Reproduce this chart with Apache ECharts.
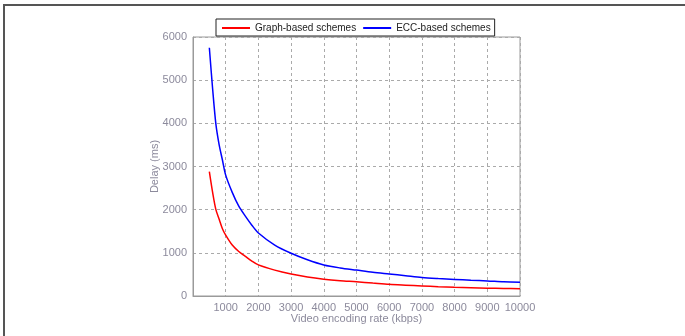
<!DOCTYPE html>
<html>
<head>
<meta charset="utf-8">
<script src="https://cdn.jsdelivr.net/npm/echarts@6/dist/echarts.min.js"></script>
<style>
html,body{margin:0;padding:0;background:#fff;}
#frame{position:absolute;left:3px;top:4px;width:682px;height:332px;border-left:2px solid #555;border-top:2px solid #555;box-sizing:border-box;}
#chart{position:absolute;left:0;top:0;width:685px;height:336px;}
</style>
</head>
<body>
<div id="frame"></div>
<div id="chart"></div>
<script>
const rates = [500, 600, 700, 800, 900, 1000, 1200, 1400, 1600, 1800, 2000, 2500, 3000, 3500, 4000, 4500, 5000, 5500, 6000, 6500, 7000, 7500, 8000, 8500, 9000, 9500, 10000];
const graphDelay = [2880, 2400, 2000, 1780, 1560, 1410, 1180, 1030, 920, 810, 720, 600, 510, 440, 390, 355, 330, 300, 270, 250, 232, 215, 200, 190, 180, 175, 170];
const eccDelay = [5750, 4800, 3980, 3500, 3150, 2800, 2400, 2080, 1850, 1640, 1460, 1180, 990, 840, 720, 650, 600, 550, 510, 470, 430, 405, 385, 365, 350, 330, 320];
const seriesNames = ['Graph-based schemes', 'ECC-based schemes'];
const xTitle = 'Video encoding rate (kbps)';
const yTitle = 'Delay (ms)';

const chart = echarts.init(document.getElementById('chart'), null, {renderer: 'canvas'});
const labelColor = '#8c8a9c';
const font = 'Liberation Sans, Arial, sans-serif';
chart.setOption({
  animation: false,
  grid: {left: 193, right: 165, top: 37, bottom: 40, show: true, borderColor: '#9a9a9a', borderWidth: 1},
  legend: {
    left: 216, top: 19, padding: [4, 4, 3, 6], itemGap: 7, itemWidth: 28, itemHeight: 2,
    icon: 'rect',
    borderColor: '#222', borderWidth: 1, backgroundColor: '#fff',
    textStyle: {fontFamily: font, fontSize: 10, color: '#222'},
    data: seriesNames
  },
  xAxis: {
    type: 'value', min: 0, max: 10000, interval: 1000,
    name: xTitle, nameLocation: 'middle', nameGap: 17, nameMoveOverlap: false,
    nameTextStyle: {fontFamily: font, fontSize: 11, color: labelColor},
    axisLine: {show: true, lineStyle: {color: '#9a9a9a'}},
    axisTick: {show: false},
    axisLabel: {fontFamily: font, fontSize: 11, color: labelColor, margin: 6, showMinLabel: false,
      formatter: v => v === 0 ? '' : String(v)},
    splitLine: {show: true, lineStyle: {color: '#aaa', type: [3, 3]}}
  },
  yAxis: {
    type: 'value', min: 0, max: 6000, interval: 1000,
    name: yTitle, nameLocation: 'middle', nameGap: 33, nameMoveOverlap: false,
    nameTextStyle: {fontFamily: font, fontSize: 11, color: labelColor},
    axisLine: {show: true, lineStyle: {color: '#9a9a9a'}},
    axisTick: {show: false},
    axisLabel: {fontFamily: font, fontSize: 11, color: labelColor, margin: 6, formatter: v => String(v)},
    splitLine: {show: true, lineStyle: {color: '#aaa', type: [3, 3]}}
  },
  series: [
    {name: seriesNames[0], type: 'line', showSymbol: false, symbol: 'none', smooth: 0.3,
      lineStyle: {color: '#ff0000', width: 1.5}, itemStyle: {color: '#ff0000'},
      data: rates.map((r, i) => [r, graphDelay[i]])},
    {name: seriesNames[1], type: 'line', showSymbol: false, symbol: 'none', smooth: 0.3,
      lineStyle: {color: '#0000ff', width: 1.5}, itemStyle: {color: '#0000ff'},
      data: rates.map((r, i) => [r, eccDelay[i]])}
  ]
});
</script>
</body>
</html>
